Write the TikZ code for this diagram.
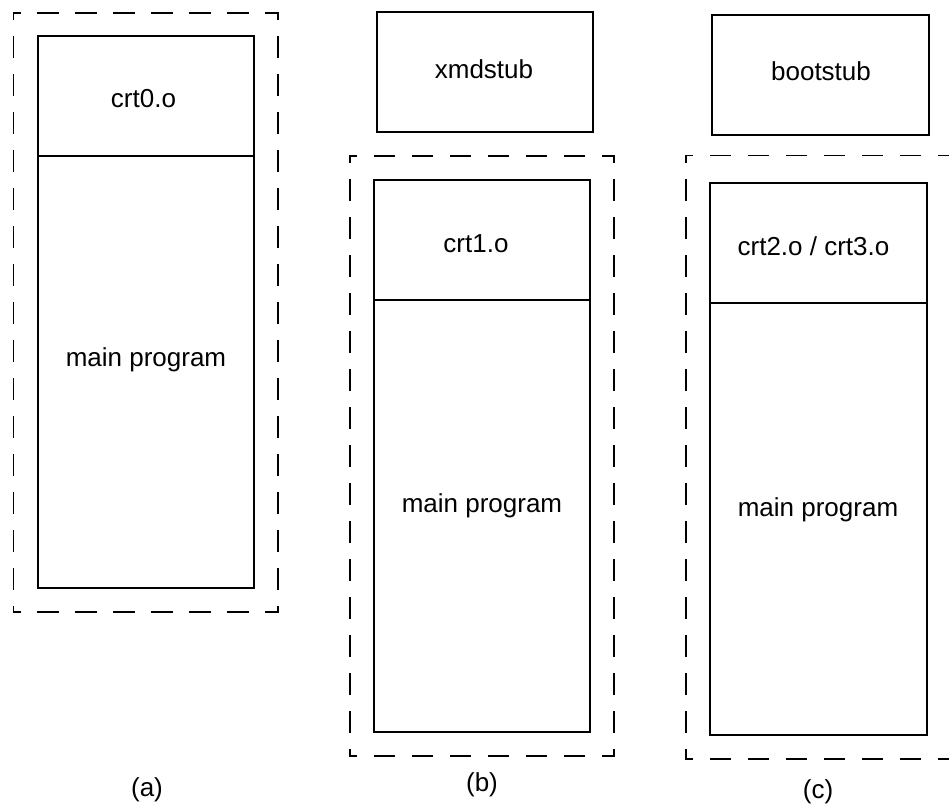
\documentclass[tikz,border=0pt]{standalone}
\usepackage{fontspec}
\setmainfont{Liberation Sans}
\begin{document}
\begin{tikzpicture}[x=1pt,y=-1pt,
  boxnode/.style={draw, line width=1.9pt, inner sep=0pt, outer sep=0pt, anchor=north west},
  txt/.style={inner sep=0pt, anchor=base, font=\fontsize{26}{30}\selectfont},
  dashbox/.style={line width=1.9pt, line cap=rect, dash pattern=on 20pt off 18pt, dash phase=13.5pt}]
\useasboundingbox (0,0) rectangle (949,805);
\clip (0,0) rectangle (949,805);

% ---------- (a) ----------
\coordinate (aTL) at (13.5,12.7);
\coordinate (aBR) at (278,612);
\draw[dashbox] (aTL) -- (aTL -| aBR);
\draw[dashbox] (aTL |- aBR) -- (aBR);
\draw[dashbox] (aTL) -- (aTL |- aBR);
\draw[dashbox] (aTL -| aBR) -- (aBR);
\node[boxnode, minimum width=216.3pt, minimum height=120pt] (atop) at (37.7,35.7) {};
\node[boxnode, minimum width=216.3pt, minimum height=432.3pt] (amain) at (37.7,155.7) {};
\node[txt] (tcrt0) at (143.5,108) {crt0.o};
\node[txt] (tmaina) at (146,366) {main program};
\node[txt] (la) at (147,796) {(a)};

% ---------- (b) ----------
\node[boxnode, minimum width=216pt, minimum height=119.4pt] (xmd) at (376.7,12.3) {};
\node[txt] (txmd) at (484,79) {xmdstub};
\coordinate (bTL) at (350,155.7);
\coordinate (bBR) at (614,755.7);
\draw[dashbox] (bTL) -- (bTL -| bBR);
\draw[dashbox] (bTL |- bBR) -- (bBR);
\draw[dashbox] (bTL) -- (bTL |- bBR);
\draw[dashbox] (bTL -| bBR) -- (bBR);
\node[boxnode, minimum width=216pt, minimum height=120pt] (btop) at (374,180) {};
\node[boxnode, minimum width=216pt, minimum height=432pt] (bmain) at (374,300) {};
\node[txt] (tcrt1) at (476,252) {crt1.o};
\node[txt] (tmainb) at (482,512) {main program};
\node[txt] (lb) at (482,791) {(b)};

% ---------- (c) ----------
\node[boxnode, minimum width=217pt, minimum height=120pt] (boot) at (712,15) {};
\node[txt] (tboot) at (821,81) {bootstub};
\coordinate (cTL) at (686,155.5);
\coordinate (cBR) at (951,759);
\draw[dashbox] (cTL) -- (cTL -| cBR);
\draw[dashbox] (cTL |- cBR) -- (cBR);
\draw[dashbox] (cTL) -- (cTL |- cBR);
\draw[dashbox] (cTL -| cBR) -- (cBR);
\node[boxnode, minimum width=217pt, minimum height=120pt] (ctop) at (710,182.7) {};
\node[boxnode, minimum width=217pt, minimum height=432.3pt] (cmain) at (710,302.7) {};
\node[txt] (tcrt23) at (813.5,255) {crt2.o / crt3.o};
\node[txt] (tmainc) at (818,516) {main program};
\node[txt] (lc) at (818,798) {(c)};
\end{tikzpicture}
\end{document}
